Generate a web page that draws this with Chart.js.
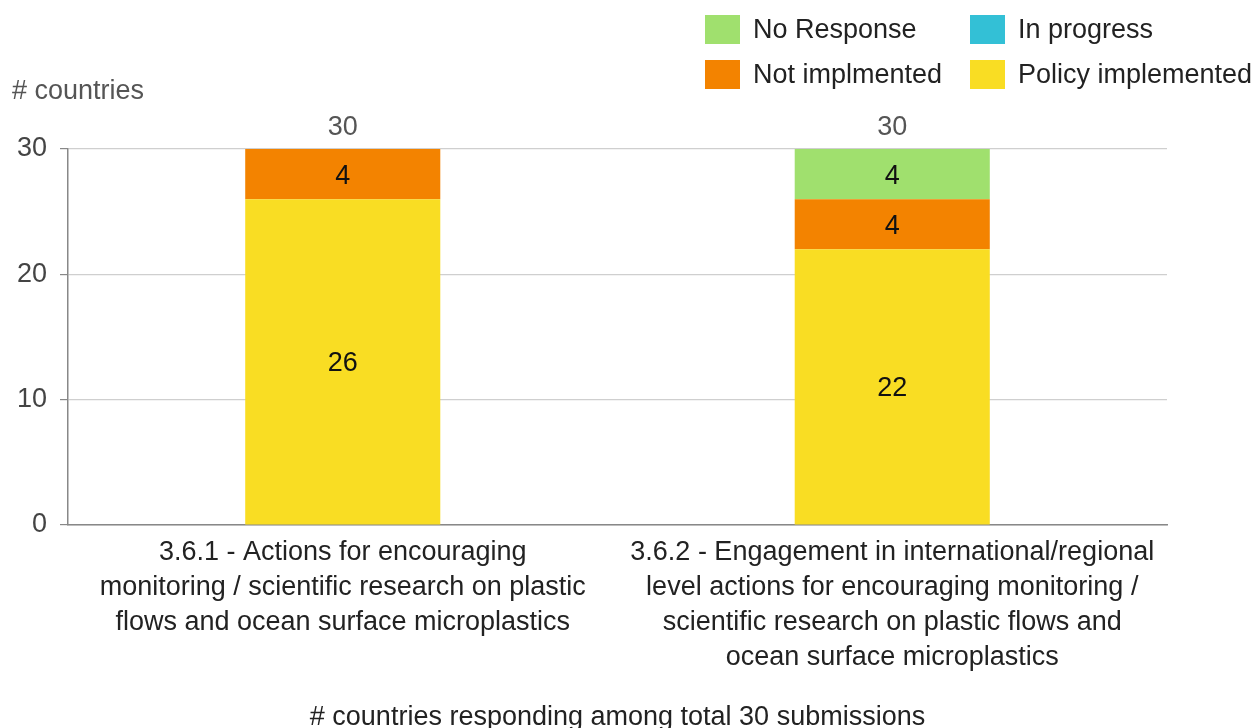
<!DOCTYPE html>
<html lang="en">
<head>
    <meta charset="UTF-8">
    <title>Microplastics actions - # countries</title>
    <script src="https://cdn.jsdelivr.net/npm/chart.js"></script>
    <style>
        body { margin: 0; background: #fff; }
        #wrap { width: 1256px; height: 728px; }
    </style>
</head>
<body>
    <div id="wrap">
        <canvas id="chart" width="1256" height="728"></canvas>
    </div>

    <script>
        // Data
        const categories = [
            ['3.6.1 - Actions for encouraging', 'monitoring / scientific research on plastic', 'flows and ocean surface microplastics'],
            ['3.6.2 - Engagement in international/regional', 'level actions for encouraging monitoring /', 'scientific research on plastic flows and', 'ocean surface microplastics']
        ];
        const policyImplemented = [26, 22];
        const inProgress = [0, 0];
        const notImplemented = [4, 4];
        const noResponse = [0, 4];
        const yTicks = [0, 10, 20, 30];

        const FONT = "'Liberation Sans', Arial, sans-serif";

        // Legend is a 2x2 grid in the top right corner
        const legendOrder = ['No Response', 'In progress', 'Not implmented', 'Policy implemented'];
        const legendPlugin = {
            id: 'gridLegend',
            afterDraw(chart) {
                const ctx = chart.ctx;
                const cols = [705, 970];
                const rows = [15, 60];
                ctx.save();
                ctx.font = '27px ' + FONT;
                ctx.textBaseline = 'middle';
                ctx.textAlign = 'left';
                legendOrder.forEach((name, i) => {
                    const ds = chart.data.datasets.find(d => d.label === name);
                    const x = cols[i % 2], y = rows[Math.floor(i / 2)];
                    ctx.fillStyle = ds.backgroundColor;
                    ctx.fillRect(x, y, 35, 29);
                    ctx.fillStyle = '#222';
                    ctx.fillText(name, x + 48, y + 16);
                });
                // y axis caption
                ctx.fillStyle = '#555';
                ctx.fillText('# countries', 12, 92);
                ctx.restore();
            }
        };

        // Segment values and totals
        const labelPlugin = {
            id: 'segmentLabels',
            afterDatasetsDraw(chart) {
                const ctx = chart.ctx;
                const yScale = chart.scales.y;
                ctx.save();
                ctx.font = '27px ' + FONT;
                ctx.textAlign = 'center';
                ctx.textBaseline = 'middle';
                chart.data.datasets.forEach((ds, di) => {
                    const meta = chart.getDatasetMeta(di);
                    meta.data.forEach((bar, i) => {
                        const v = ds.data[i];
                        if (!v) return;
                        ctx.fillStyle = '#111';
                        ctx.fillText(String(v), bar.x, (bar.y + bar.base) / 2 + 2);
                    });
                });
                categories.forEach((c, i) => {
                    let total = 0;
                    chart.data.datasets.forEach(ds => { total += ds.data[i]; });
                    const bar = chart.getDatasetMeta(0).data[i];
                    ctx.fillStyle = '#555';
                    ctx.fillText(String(total), bar.x, yScale.getPixelForValue(total) - 21);
                });
                ctx.restore();
            }
        };

        const ctx = document.getElementById('chart').getContext('2d');
        new Chart(ctx, {
            type: 'bar',
            data: {
                labels: categories,
                datasets: [
                    { label: 'Policy implemented', data: policyImplemented, backgroundColor: '#f9dd23' },
                    { label: 'In progress', data: inProgress, backgroundColor: '#33c0d6' },
                    { label: 'Not implmented', data: notImplemented, backgroundColor: '#f38300' },
                    { label: 'No Response', data: noResponse, backgroundColor: '#a0e06e' }
                ]
            },
            options: {
                responsive: false,
                animation: false,
                barPercentage: 0.355,
                categoryPercentage: 1,
                layout: { padding: { top: 149, right: 89, bottom: 0, left: 0 } },
                plugins: {
                    legend: { display: false },
                    tooltip: { enabled: false }
                },
                scales: {
                    x: {
                        stacked: true,
                        afterFit: (scale) => { scale.height = 203; },
                        grid: { color: 'transparent', drawTicks: false },
                        border: { display: true, color: '#888', width: 1.5 },
                        ticks: {
                            maxRotation: 0,
                            autoSkip: false,
                            padding: 10,
                            color: '#222',
                            font: { family: FONT, size: 27, lineHeight: 1.3 }
                        },
                        title: {
                            display: true,
                            text: '# countries responding among total 30 submissions',
                            color: '#222',
                            padding: { top: 0, bottom: 0 },
                            font: { family: FONT, size: 27, lineHeight: 0.8 }
                        }
                    },
                    y: {
                        stacked: true,
                        min: 0,
                        max: 30,
                        afterFit: (scale) => { scale.width = 68; },
                        afterBuildTicks: (scale) => { scale.ticks = yTicks.map(v => ({ value: v })); },
                        grid: { color: '#cfcfcf', tickColor: '#888', tickLength: 8, lineWidth: 1.2 },
                        border: { display: true, color: '#888', width: 1.5 },
                        ticks: {
                            padding: 13,
                            color: '#444',
                            font: { family: FONT, size: 27 }
                        }
                    }
                }
            },
            plugins: [legendPlugin, labelPlugin]
        });
    </script>
</body>
</html>
